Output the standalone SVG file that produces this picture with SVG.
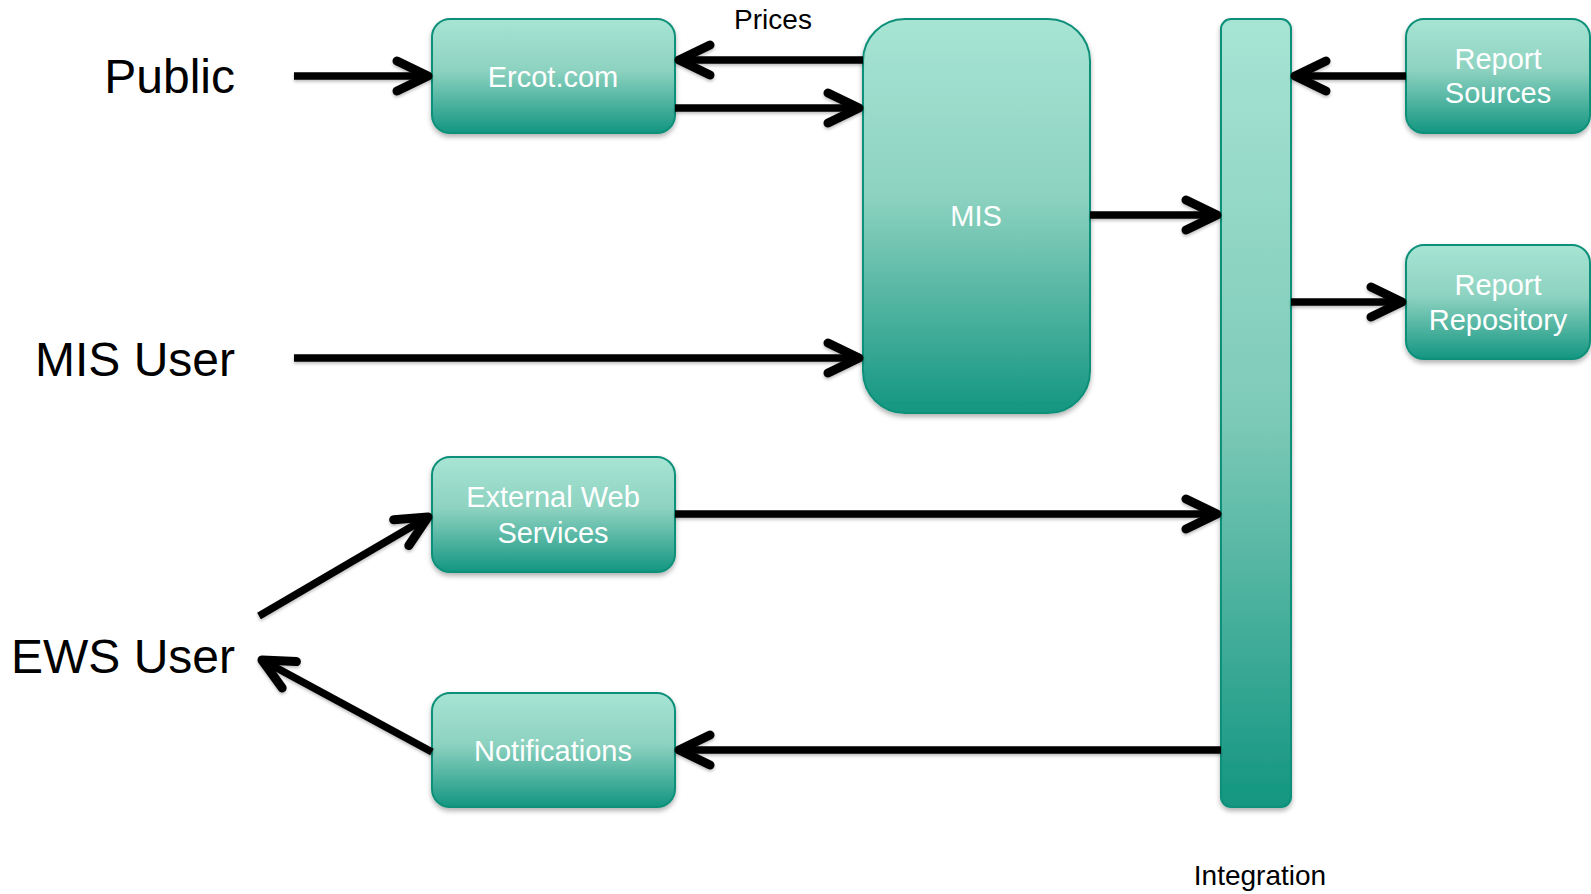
<svg xmlns="http://www.w3.org/2000/svg" width="1591" height="894" viewBox="0 0 1591 894">
<defs>
<linearGradient id="g" x1="0" y1="0" x2="0" y2="1">
<stop offset="0" stop-color="#a7e4d4"/>
<stop offset="0.45" stop-color="#8dd2c0"/>
<stop offset="1" stop-color="#139681"/>
</linearGradient>
<linearGradient id="gbar" x1="0" y1="0" x2="0" y2="1">
<stop offset="0" stop-color="#a7e4d4"/>
<stop offset="0.5" stop-color="#7ecab8"/>
<stop offset="1" stop-color="#139681"/>
</linearGradient>
<filter id="sh" x="-10%" y="-10%" width="120%" height="130%">
<feDropShadow dx="0" dy="3" stdDeviation="2.5" flood-color="#000" flood-opacity="0.3"/>
</filter>
<filter id="lsh" filterUnits="userSpaceOnUse" x="0" y="0" width="1591" height="894">
<feDropShadow dx="0" dy="2" stdDeviation="1.5" flood-color="#000" flood-opacity="0.25"/>
</filter>
<marker id="arr" markerUnits="userSpaceOnUse" markerWidth="50" markerHeight="50" viewBox="-40 -25 50 50" refX="0" refY="0" orient="auto" overflow="visible">
<path d="M -31 -15 L 0 0 L -31 15" fill="none" stroke="#000" stroke-width="9" stroke-linecap="round" stroke-linejoin="round"/>
</marker>
</defs>
<style>
.box{fill:url(#g);stroke:#10907a;stroke-width:2;filter:url(#sh)}
.bar{fill:url(#gbar);stroke:#10907a;stroke-width:2;filter:url(#sh)}
.bt{font-family:"Liberation Sans",Arial,sans-serif;font-size:29px;fill:#fff;text-anchor:middle}
.big{font-family:"Liberation Sans",Arial,sans-serif;font-size:48px;fill:#000;text-anchor:end}
.lbl{font-family:"Liberation Sans",Arial,sans-serif;font-size:28px;fill:#000;text-anchor:middle}
.c{fill:none;stroke:#000;stroke-width:7.5;marker-end:url(#arr)}
</style>
<rect width="1591" height="894" fill="#fff"/>
<g id="public"><text class="big" x="235" y="93">Public</text></g>
<g id="mis-user"><text class="big" x="235" y="376">MIS User</text></g>
<g id="ews-user"><text class="big" x="235" y="673">EWS User</text></g>
<g id="ercot"><rect class="box" x="432" y="19" width="243" height="114" rx="18"/><text class="bt" x="553" y="87">Ercot.com</text></g>
<g id="mis"><rect class="box" x="863" y="19" width="227" height="394" rx="42"/><text class="bt" x="976" y="226">MIS</text></g>
<g id="integration"><rect class="bar" x="1221" y="19" width="70" height="788" rx="10"/><text class="lbl" x="1260" y="885">Integration</text></g>
<g id="report-sources"><rect class="box" x="1406" y="19" width="184" height="114" rx="18"/><text class="bt" x="1498" y="69">Report</text><text class="bt" x="1498" y="103">Sources</text></g>
<g id="report-repository"><rect class="box" x="1406" y="245" width="184" height="114" rx="18"/><text class="bt" x="1498" y="295">Report</text><text class="bt" x="1498" y="330">Repository</text></g>
<g id="ews"><rect class="box" x="432" y="457" width="243" height="115" rx="18"/><text class="bt" x="553" y="507">External Web</text><text class="bt" x="553" y="543">Services</text></g>
<g id="notifications"><rect class="box" x="432" y="693" width="243" height="114" rx="18"/><text class="bt" x="553" y="761">Notifications</text></g>
<g id="connectors" filter="url(#lsh)">
<path class="c" d="M 294 76 L 428 76"/>
<path class="c" d="M 863 60 L 679 60"/>
<path class="c" d="M 675 108 L 859 108"/>
<path class="c" d="M 294 358 L 859 358"/>
<path class="c" d="M 1090 215 L 1217 215"/>
<path class="c" d="M 1406 76 L 1295 76"/>
<path class="c" d="M 1291 302 L 1402 302"/>
<path class="c" d="M 675 514 L 1217 514"/>
<path class="c" d="M 1221 750 L 679 750"/>
<path class="c" d="M 259 616 L 428 517"/>
<path class="c" d="M 432 752 L 262 660"/>
</g>
<text class="lbl" x="773" y="29">Prices</text>
</svg>
